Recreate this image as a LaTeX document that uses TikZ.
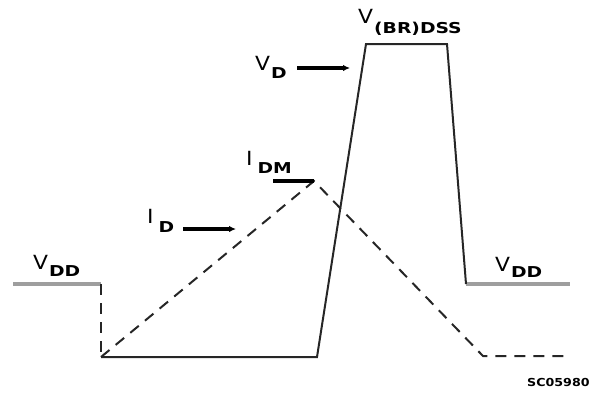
\documentclass[tikz,border=0pt]{standalone}
\usepackage{fontspec}
\usetikzlibrary{arrows.meta}
\setmainfont{DejaVu Sans}
\newcommand{\mainT}[1]{\scalebox{1.12}[1]{\fontsize{19.5}{19.5}\selectfont #1}}
\newcommand{\subT}[1]{\scalebox{1.25}[1]{\fontsize{15}{15}\selectfont\bfseries #1}}
\begin{document}
\begin{tikzpicture}[x=1pt,y=-1pt,
  grayline/.style={draw=black!38,line width=3.2pt},
  sigline/.style={draw=black!85,line width=2pt},
  dashline/.style={draw=black!85,line width=2pt,dash pattern=on 11pt off 8pt},
  arr/.style={draw=black,line width=3.6pt,-{Latex[length=7pt,width=6.5pt]}},
  lab/.style={inner sep=0pt,anchor=base west}]
\useasboundingbox (0,0) rectangle (601,392);
\coordinate (l0) at (13,284);
\coordinate (l1) at (101,284);
\coordinate (b0) at (101,357);
\coordinate (b1) at (317,357);
\coordinate (t0) at (366,44);
\coordinate (t1) at (447,44);
\coordinate (r0) at (466,284);
\coordinate (r1) at (570,284);
\coordinate (pk) at (314,181);
\coordinate (d1) at (483,356);
\coordinate (d2) at (568,356);
\coordinate (pkl) at (273,181);
\coordinate (vda) at (297,68);
\coordinate (vdb) at (350,68);
\coordinate (ida) at (183,229);
\coordinate (idb) at (236,229);
\draw[grayline] (l0) -- (l1);
\draw[grayline] (r0) -- (r1);
\draw[dashline] (l1) -- (b0);
\draw[sigline] (b0) -- (b1) -- (t0) -- (t1) -- (r0);
\draw[dashline] (b0) -- (pk) -- (d1) -- (d2);
\draw[line width=3.6pt] (pkl) -- (pk);
\draw[arr] (vda) -- (vdb);
\draw[arr] (ida) -- (idb);
\node[lab] (vddl) at (33,269) {\mainT{V}\hspace{1pt}\raisebox{-7pt}{\subT{DD}}};
\node[lab] (vddr) at (495,271) {\mainT{V}\hspace{1pt}\raisebox{-6pt}{\subT{DD}}};
\node[lab] (vbr) at (358,23) {\mainT{V}\hspace{1pt}\raisebox{-10pt}{\subT{(BR)DSS}}};
\node[lab] (vd) at (255,70) {\mainT{V}\hspace{1pt}\raisebox{-8pt}{\subT{D}}};
\node[lab] (idm) at (246,165) {\mainT{I}\hspace{5pt}\raisebox{-8pt}{\subT{DM}}};
\node[lab] (id) at (147,223) {\mainT{I}\hspace{5pt}\raisebox{-9pt}{\subT{D}}};
\node[lab] (sc) at (527,386) {\scalebox{1.15}[1]{\fontsize{11}{11}\selectfont\bfseries SC05980}};
\end{tikzpicture}
\end{document}
